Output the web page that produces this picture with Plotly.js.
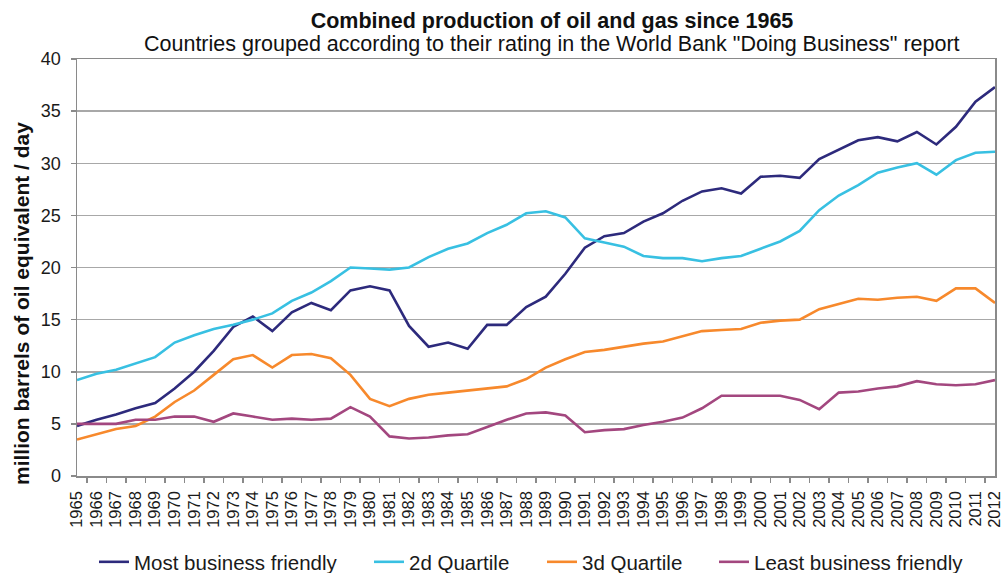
<!DOCTYPE html>
<html>
<head>
<meta charset="utf-8">
<script src="https://cdn.plot.ly/plotly-3.0.1.min.js"></script>
<style>
  body { margin: 0; background: #fff; }
  #plot { width: 1002px; height: 573px; }
</style>
</head>
<body>
<div id="plot"></div>
<script>
// DATA
var years = [];
for (var yr = 1965; yr <= 2012; yr++) {
  years.push(String(yr));
}

var mostFriendly = [
  4.8, 5.4, 5.9, 6.5, 7.0, 8.4, 10.0, 12.0, 14.3, 15.3,
  13.9, 15.7, 16.6, 15.9, 17.8, 18.2, 17.8, 14.4, 12.4, 12.8,
  12.2, 14.5, 14.5, 16.2, 17.2, 19.4, 21.9, 23.0, 23.3, 24.4,
  25.2, 26.4, 27.3, 27.6, 27.1, 28.7, 28.8, 28.6, 30.4, 31.3,
  32.2, 32.5, 32.1, 33.0, 31.8, 33.5, 35.9, 37.3
];
var secondQuartile = [
  9.2, 9.8, 10.2, 10.8, 11.4, 12.8, 13.5, 14.1, 14.5, 15.0,
  15.6, 16.8, 17.6, 18.7, 20.0, 19.9, 19.8, 20.0, 21.0, 21.8,
  22.3, 23.3, 24.1, 25.2, 25.4, 24.8, 22.8, 22.4, 22.0, 21.1,
  20.9, 20.9, 20.6, 20.9, 21.1, 21.8, 22.5, 23.5, 25.5, 26.9,
  27.9, 29.1, 29.6, 30.0, 28.9, 30.3, 31.0, 31.1
];
var thirdQuartile = [
  3.5, 4.0, 4.5, 4.8, 5.7, 7.1, 8.2, 9.7, 11.2, 11.6,
  10.4, 11.6, 11.7, 11.3, 9.7, 7.4, 6.7, 7.4, 7.8, 8.0,
  8.2, 8.4, 8.6, 9.3, 10.4, 11.2, 11.9, 12.1, 12.4, 12.7,
  12.9, 13.4, 13.9, 14.0, 14.1, 14.7, 14.9, 15.0, 16.0, 16.5,
  17.0, 16.9, 17.1, 17.2, 16.8, 18.0, 18.0, 16.6
];
var leastFriendly = [
  5.0, 5.0, 5.0, 5.4, 5.4, 5.7, 5.7, 5.2, 6.0, 5.7,
  5.4, 5.5, 5.4, 5.5, 6.6, 5.7, 3.8, 3.6, 3.7, 3.9,
  4.0, 4.7, 5.4, 6.0, 6.1, 5.8, 4.2, 4.4, 4.5, 4.9,
  5.2, 5.6, 6.5, 7.7, 7.7, 7.7, 7.7, 7.3, 6.4, 8.0,
  8.1, 8.4, 8.6, 9.1, 8.8, 8.7, 8.8, 9.2
];

var seriesNames = ["Most business friendly", "2d Quartile", "3d Quartile", "Least business friendly"];
var seriesColors = ["#2d2a7c", "#38c0e2", "#f7892c", "#a3477f"];

var FONT = "Liberation Sans, Arial, sans-serif";

// plot box in page pixels
var PL = 77, PR = 995, PT = 59, PB = 476;
var pw = PR - PL, ph = PB - PT;

// legend item left edges in page pixels (one legend per series)
var legendLeft = [94, 369, 542, 714];
var legendY = 562;

var legendKey = function(i) {
  return i === 0 ? "legend" : "legend" + (i + 1);
};

var makeTrace = function(values, i) {
  return {
    x: years,
    y: values,
    type: "scatter",
    mode: "lines",
    name: seriesNames[i],
    legend: legendKey(i),
    showlegend: true,
    line: { color: seriesColors[i], width: 2.6 },
    hoverinfo: "x+y+name"
  };
};

var traces = [mostFriendly, secondQuartile, thirdQuartile, leastFriendly].map(makeTrace);

var layout = {
  width: 1002,
  height: 573,
  showlegend: true,
  margin: { l: PL, r: 1002 - PR, t: PT, b: 573 - PB },
  paper_bgcolor: "#fff",
  plot_bgcolor: "#fff",
  font: { family: FONT, color: "#1a1a1a" },
  title: {
    text: "<b>Combined production of oil and gas since 1965</b>",
    font: { size: 21.5, color: "#111" },
    xref: "container",
    yref: "container",
    x: 552 / 1002,
    xanchor: "center",
    y: 1 - 20 / 573,
    yanchor: "middle"
  },
  xaxis: {
    type: "category",
    tickmode: "linear",
    dtick: 1,
    tickson: "boundaries",
    ticks: "outside",
    ticklen: 5,
    tickcolor: "#8a8a8a",
    tickwidth: 1.5,
    tickangle: -90,
    tickfont: { size: 16.5, color: "#1a1a1a" },
    ticklabelstandoff: 7,
    showgrid: false,
    showline: true,
    linecolor: "#8a8a8a",
    linewidth: 1.5,
    mirror: true,
    zeroline: false,
    automargin: false
  },
  yaxis: {
    range: [0, 40],
    dtick: 5,
    ticks: "outside",
    ticklen: 5,
    tickcolor: "#8a8a8a",
    tickwidth: 1.5,
    tickfont: { size: 18, color: "#1a1a1a" },
    ticklabelstandoff: 6,
    showgrid: true,
    gridcolor: "#a8a8a8",
    gridwidth: 1.5,
    showline: true,
    linecolor: "#8a8a8a",
    linewidth: 1.5,
    mirror: true,
    zeroline: false,
    automargin: false
  },
  annotations: [
    {
      text: "Countries grouped according to their rating in the World Bank \"Doing Business\" report",
      xref: "paper",
      yref: "paper",
      x: (552 - PL) / pw,
      y: 1 + 15 / ph,
      xanchor: "center",
      yanchor: "middle",
      showarrow: false,
      font: { size: 21.5, color: "#111" }
    },
    {
      text: "<b>million barrels of oil equivalent / day</b>",
      textangle: -90,
      xref: "paper",
      yref: "paper",
      x: (21 - PL) / pw,
      y: (PB - 304) / ph,
      xanchor: "center",
      yanchor: "middle",
      showarrow: false,
      font: { size: 21, color: "#111" }
    }
  ]
};

// one legend box per series so the spacing matches the original
legendLeft.forEach(function(px, i) {
  layout[legendKey(i)] = {
    orientation: "h",
    xref: "container",
    yref: "container",
    x: px / 1002,
    xanchor: "left",
    y: (573 - legendY) / 573,
    yanchor: "middle",
    bgcolor: "rgba(0,0,0,0)",
    borderwidth: 0,
    font: { size: 20.5, color: "#1a1a1a", family: FONT }
  };
});

Plotly.newPlot("plot", traces, layout, { displayModeBar: false, staticPlot: true });
</script>
</body>
</html>
